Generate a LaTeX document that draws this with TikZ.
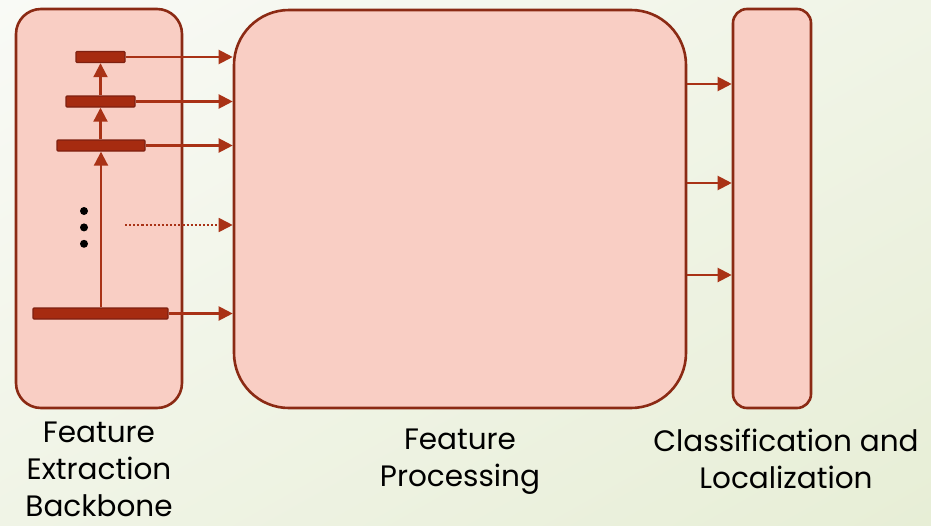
\documentclass[tikz,border=0pt]{standalone}
\usepackage{fontspec}
\setmainfont{Poppins}
\usetikzlibrary{arrows.meta,calc,positioning,shadings}
\definecolor{stagefill}{HTML}{F9CEC4}
\definecolor{stageline}{HTML}{8B2A14}
\definecolor{levelfill}{HTML}{A62B10}
\definecolor{levelline}{HTML}{7E2010}
\definecolor{flowred}{HTML}{A93216}
\definecolor{bgwhite}{HTML}{F9FAF6}
\definecolor{bgmid}{HTML}{F0F4E6}
\definecolor{bggreen}{HTML}{E7EED6}
\tikzset{
  stage/.style={
    draw=stageline,
    fill=stagefill,
    line width=2.6pt,
    inner sep=0pt
  },
  level/.style={
    draw=levelline,
    fill=levelfill,
    line width=1.4pt,
    rounded corners=1pt,
    minimum height=11pt,
    inner sep=0pt
  },
  flow/.style={-{Triangle[length=14pt,width=14pt]}, line width=2.1pt, draw=flowred},
  dottedflow/.style={flow, dotted, line width=1.8pt},
  vdot/.style={circle, fill=black, minimum size=8pt, inner sep=0pt},
  caption/.style={align=center, font=\fontsize{29.5}{37}\selectfont, text=black}
}

\begin{document}
\begin{tikzpicture}[x=1pt, y=-1pt]
  \shade[upper left=bgwhite, upper right=bgmid, lower left=bgmid, lower right=bggreen]
    (0,0) rectangle (931,525);
  \useasboundingbox (0,0) rectangle (931,525);
  % three stages
  \node[stage, rounded corners=25pt, minimum width=166pt, minimum height=399pt] (backbone) at (99,208.5) {};
  \node[stage, rounded corners=55pt, minimum width=452pt, minimum height=398pt] (proc) at (460,209) {};
  \node[stage, rounded corners=14pt, minimum width=78pt, minimum height=399pt] (head) at (772,208.5) {};
  % pyramid levels
  \node[level, minimum width=49pt] (lvlone) at (100.5,57) {};
  \node[level, minimum width=69pt] (lvltwo) at (100.5,101.5) {};
  \node[level, minimum width=88pt] (lvlthree) at (101,145.5) {};
  \node[level, minimum width=135pt] (lvlfour) at (100.5,313.5) {};
  \node[vdot] (dota) at (84,211) {};
  \node[vdot, below=8pt of dota] (dotb) {};
  \node[vdot, below=8pt of dotb] (dotc) {};
  \coordinate (dotsrc) at (125,225);
  \draw[flow] (lvlfour.north -| lvlthree.south) -- (lvlthree.south);
  \draw[flow] (lvlthree.north -| lvltwo.south) -- (lvltwo.south);
  \draw[flow] (lvltwo.north -| lvlone.south) -- (lvlone.south);
  \draw[flow] (lvlone.east) -- (lvlone.east -| proc.west);
  \draw[flow] (lvltwo.east) -- (lvltwo.east -| proc.west);
  \draw[flow] (lvlthree.east) -- (lvlthree.east -| proc.west);
  \draw[dottedflow] (dotsrc) -- (dotsrc -| proc.west);
  \draw[flow] (lvlfour.east) -- (lvlfour.east -| proc.west);
  \foreach \yy in {84,183,275}
    \draw[flow] (proc.east |- 0,\yy) -- (head.west |- 0,\yy);
  % captions
  \node[caption, anchor=north] (capback) at (99,418) {Feature\\Extraction\\Backbone};
  \node[caption, anchor=north] (capproc) at (460,425) {Feature\\Processing};
  \node[caption, anchor=north] (caphead) at (786,425) {Classification and\\Localization};
\end{tikzpicture}
\end{document}
